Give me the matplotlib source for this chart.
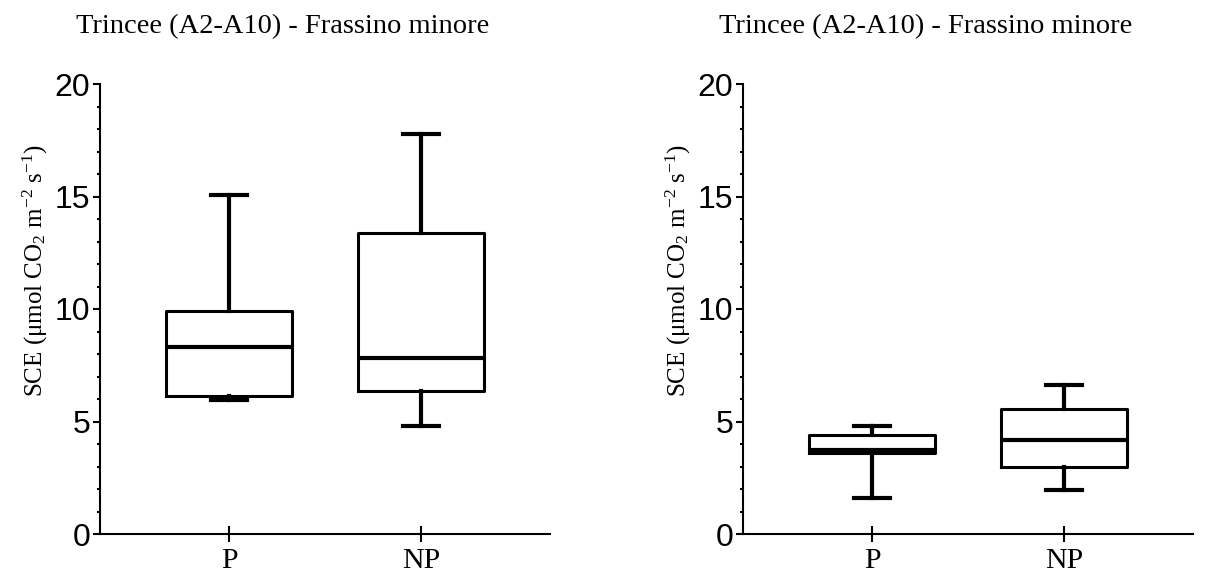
import matplotlib
matplotlib.use("Agg")
import matplotlib.pyplot as plt

# Soil CO2 efflux per group: whisker low, Q1, median, Q3, whisker high
groups = ["P", "NP"]
title = "Trincee (A2-A10) - Frassino minore"

left_whislo = [5.94, 4.81]
left_q1 = [6.12, 6.37]
left_med = [8.29, 7.82]
left_q3 = [9.93, 13.37]
left_whishi = [15.06, 17.76]

right_whislo = [1.58, 1.97]
right_q1 = [3.62, 2.98]
right_med = [3.72, 4.19]
right_q3 = [4.40, 5.57]
right_whishi = [4.81, 6.64]

yticks = [0, 5, 10, 15, 20]

plt.rcParams["mathtext.fontset"] = "custom"
plt.rcParams["mathtext.rm"] = "Liberation Serif"
plt.rcParams["mathtext.it"] = "Liberation Serif:italic"

W, H = 1208, 574
fig = plt.figure(figsize=(W / 100, H / 100), dpi=100)


def make_stats(lo, q1, med, q3, hi):
    return [dict(whislo=a, q1=b, med=c, q3=d, whishi=e, fliers=[], label=g)
            for a, b, c, d, e, g in zip(lo, q1, med, q3, hi, groups)]


def draw_panel(x0, stats):
    ax = fig.add_axes([x0 / W, (H - 534) / H, 450 / W, 450 / H])
    ax.bxp(stats, positions=[1, 2], widths=0.66, capwidths=0.186,
           showfliers=False,
           boxprops=dict(color="black", linewidth=2.2),
           medianprops=dict(color="black", linewidth=3),
           whiskerprops=dict(color="black", linewidth=3),
           capprops=dict(color="black", linewidth=3))
    ax.set_xlim(1 - 129 / 192, 2 + 129 / 192)
    ax.set_ylim(0, 20)
    for side in ("top", "right"):
        ax.spines[side].set_visible(False)
    for side in ("left", "bottom"):
        ax.spines[side].set_linewidth(1.5)
    ax.set_yticks(yticks)
    ax.set_yticks(range(0, 21), minor=True)
    ax.set_yticklabels([str(t) for t in yticks], fontfamily="Liberation Sans",
                       fontsize=23)
    ax.tick_params(axis="y", which="major", length=5, width=1.5, pad=2)
    ax.tick_params(axis="y", which="minor", length=2.5, width=1.5)
    ax.set_xticks([1, 2])
    ax.set_xticklabels(groups, fontfamily="Liberation Serif", fontsize=21.5)
    ax.tick_params(axis="x", direction="inout", length=12, width=1.5, pad=4)
    ax.set_ylabel(r"SCE ($\mathrm{\mu}$mol CO$_2$ m$^{-2}$ s$^{-1}$)",
                  fontfamily="Liberation Serif", fontsize=18)
    ax.yaxis.set_label_coords(-0.11, 0.585)
    fig.text((x0 + 183) / W, 1 - 27 / H, title, fontfamily="Liberation Serif",
             fontsize=20.5, ha="center", va="center")
    return ax


draw_panel(100, make_stats(left_whislo, left_q1, left_med, left_q3, left_whishi))
draw_panel(743, make_stats(right_whislo, right_q1, right_med, right_q3, right_whishi))

fig.savefig("out.png", dpi=100)
